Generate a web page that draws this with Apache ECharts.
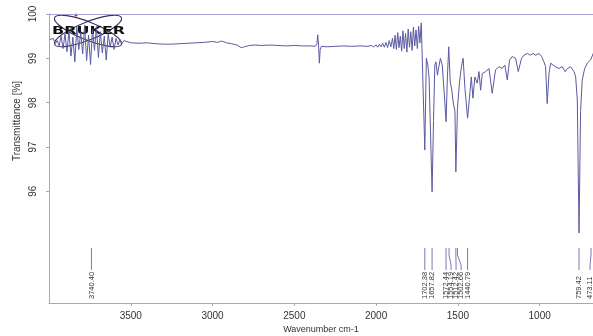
<!DOCTYPE html>
<html>
<head>
<meta charset="utf-8">
<script src="https://cdn.jsdelivr.net/npm/echarts@6/dist/echarts.min.js"></script>
<style>
html, body { margin: 0; padding: 0; background: #fff; }
#main { width: 593px; height: 336px; }
</style>
</head>
<body>
<div id="main"></div>
<script>
// IR spectrum
var wavenumbers = [
  3996, 3985, 3974, 3962, 3950, 3938, 3926, 3914, 3902, 3890, 3878, 3866, 3854, 3842, 3830, 3818, 3806, 3794, 3782, 3770,
  3758, 3746, 3734, 3722, 3710, 3698, 3686, 3674, 3662, 3650, 3638, 3626, 3614, 3602, 3590, 3578, 3566, 3554, 3542, 3530,
  3500, 3450, 3400, 3350, 3300, 3250, 3200, 3150, 3100, 3050, 3000, 2970, 2945, 2915, 2885, 2850, 2825, 2805, 2775, 2740,
  2700, 2650, 2600, 2550, 2500, 2450, 2400, 2372, 2362, 2357, 2352, 2347, 2342, 2335, 2300, 2250, 2200, 2150, 2100, 2050,
  2030, 2015, 2000, 1990, 1980, 1970, 1960, 1950, 1940, 1930, 1920, 1910, 1900, 1892, 1884, 1876, 1868, 1860, 1852, 1844,
  1836, 1828, 1820, 1812, 1804, 1796, 1788, 1780, 1772, 1764, 1756, 1748, 1740, 1732, 1724,
  1702.38, 1693, 1684, 1676, 1668, 1657.82, 1649, 1641, 1634, 1625, 1617, 1607, 1596, 1585, 1572.44, 1564, 1556, 1547, 1538, 1529,
  1518, 1512.42, 1502.66, 1490, 1479, 1468, 1457, 1440.79, 1426, 1418, 1408, 1396, 1382, 1371, 1361, 1351, 1331, 1310, 1290, 1270,
  1249, 1229, 1213, 1198, 1184, 1168, 1147, 1131, 1111, 1096, 1076, 1056, 1041, 1025, 1004, 988, 974, 964, 954, 943,
  933, 919, 903, 892, 882, 862, 845, 831, 811, 790, 780, 770, 759.42, 750, 740, 725, 709, 689, 668, 640,
  600, 560, 520, 495, 473.11, 455, 430, 400
];
var transmittance = [
  99.42, 99.38, 99.45, 99.33, 99.40, 99.28, 99.50, 99.22, 99.55, 99.15, 99.62, 99.05, 99.48, 98.92, 99.70, 99.20, 99.58, 99.10, 99.75, 98.95,
  99.52, 98.86, 99.66, 99.18, 99.72, 99.02, 99.60, 99.12, 99.50, 98.96, 99.55, 99.25, 99.48, 99.20, 99.45, 99.30, 99.42, 99.33, 99.40, 99.36,
  99.35, 99.34, 99.35, 99.33, 99.32, 99.32, 99.33, 99.34, 99.35, 99.36, 99.38, 99.36, 99.39, 99.35, 99.33, 99.30, 99.24, 99.26, 99.29, 99.30,
  99.29, 99.30, 99.29, 99.28, 99.29, 99.28, 99.28, 99.27, 99.33, 99.53, 99.30, 98.89, 99.20, 99.27, 99.26, 99.27, 99.28, 99.27, 99.28, 99.27,
  99.29, 99.26, 99.30, 99.25, 99.32, 99.26, 99.34, 99.25, 99.36, 99.24, 99.40, 99.26, 99.45, 99.22, 99.52, 99.20, 99.58, 99.24, 99.50, 99.16,
  99.62, 99.22, 99.56, 99.14, 99.66, 99.25, 99.60, 99.18, 99.70, 99.28, 99.64, 99.22, 99.72, 99.35, 99.80,
  96.93, 99.00, 98.85, 98.56, 97.40, 95.99, 97.60, 98.85, 98.92, 98.62, 98.80, 99.00, 98.85, 98.30, 97.57, 98.60, 99.26, 98.47, 98.30, 98.02,
  97.80, 96.44, 97.87, 98.47, 98.80, 99.00, 98.32, 97.65, 98.25, 98.58, 98.10, 98.58, 98.44, 98.70, 98.28, 98.66, 98.70, 98.77, 98.21, 98.74,
  98.81, 98.77, 98.85, 98.51, 98.96, 99.04, 99.00, 98.70, 99.00, 99.07, 99.11, 99.07, 99.11, 99.07, 99.11, 99.04, 98.92, 98.81, 97.98, 98.66,
  98.89, 98.85, 98.81, 98.85, 98.77, 98.81, 98.70, 98.77, 98.81, 98.70, 98.58, 98.06, 95.06, 97.80, 98.51, 98.77, 98.89, 98.96, 99.15, 99.12,
  99.02, 98.90, 98.60, 98.20, 96.80, 98.70, 98.95, 99.05
];
var peakPositions = [3740.40, 1702.38, 1657.82, 1572.44, 1554.19, 1512.42, 1502.66, 1440.79, 759.42, 473.11];
var peakLabels = ['3740.40', '1702.38', '1657.82', '1572.44', '1554.19', '1512.42', '1502.66', '1440.79', '759.42', '473.11'];
var xTicks = [3500, 3000, 2500, 2000, 1500, 1000];
var yTicks = [96, 97, 98, 99, 100];

var axisColor = '#a4a4d4';
var textColor = '#333';
var font = '"Liberation Sans", Arial, sans-serif';

// push peak labels apart so they do not overlap, keep them inside the picture
function spreadLabels(xs, gap, maxX) {
  var order = xs.map(function (x, i) { return i; }).sort(function (a, b) { return xs[a] - xs[b]; });
  var out = xs.slice();
  for (var k = 1; k < order.length; k++) {
    var prev = out[order[k - 1]];
    if (out[order[k]] < prev + gap) out[order[k]] = prev + gap;
  }
  for (var k = order.length - 1; k >= 0; k--) {
    var lim = k === order.length - 1 ? maxX : out[order[k + 1]] - gap;
    if (out[order[k]] > lim) out[order[k]] = lim;
  }
  return out;
}

var chart = echarts.init(document.getElementById('main'));
var spectrum = wavenumbers.map(function (w, i) { return [w, transmittance[i]]; });

var option = {
  animation: false,
  backgroundColor: '#fff',
  grid: { left: 49, right: 0, top: 14, bottom: 33 },
  xAxis: [{
    type: 'value', min: 674, max: 4000, inverse: true,
    axisLine: { show: true, lineStyle: { color: axisColor } },
    axisTick: { show: true, length: 3, customValues: xTicks, lineStyle: { color: axisColor } },
    axisLabel: {
      customValues: xTicks, margin: 8, color: textColor, fontSize: 10, fontFamily: font,
      formatter: function (v) { return String(v); }
    },
    splitLine: { show: false }
  }, {
    // top frame line only
    type: 'value', position: 'top', min: 674, max: 4000, inverse: true,
    axisLine: { show: true, lineStyle: { color: axisColor } },
    axisTick: { show: false }, axisLabel: { show: false }, splitLine: { show: false }
  }],
  yAxis: {
    type: 'value', min: 93.48, max: 100,
    axisLine: { show: true, lineStyle: { color: axisColor } },
    axisTick: { show: true, length: 3, customValues: yTicks, lineStyle: { color: axisColor } },
    axisLabel: { customValues: yTicks, rotate: 90, margin: 11, color: textColor, fontSize: 10, fontFamily: font },
    splitLine: { show: false }
  },
  graphic: [
    {
      type: 'text', x: 17, y: 121, rotation: Math.PI / 2, z: 10,
      style: { text: 'Transmittance [%]', fill: textColor, font: '10px ' + font, align: 'center', verticalAlign: 'middle' }
    },
    {
      type: 'text', x: 321, y: 330, z: 10,
      style: { text: 'Wavenumber cm-1', fill: textColor, font: '9px ' + font, align: 'center', verticalAlign: 'middle' }
    },
    {
      type: 'group', x: 88, y: 31, z: 100,
      children: [
        { type: 'ellipse', rotation: 0.38, shape: { cx: 0, cy: 0, rx: 36, ry: 9 }, style: { fill: null, stroke: '#3e3060', lineWidth: 1.1 } },
        { type: 'ellipse', rotation: -0.38, shape: { cx: 0, cy: 0, rx: 36, ry: 9 }, style: { fill: null, stroke: '#3e3060', lineWidth: 1.1 } },
        { type: 'circle', shape: { cx: -12, cy: -16, r: 1.6 }, style: { fill: '#c03030' } },
        {
          type: 'text', x: -36, y: 0, scaleX: 1.6,
          style: { text: 'BRUKER', fill: '#111', font: 'bold 10px "DejaVu Sans", sans-serif', align: 'left', verticalAlign: 'middle' }
        }
      ]
    }
  ],
  series: [
    {
      type: 'line',
      data: spectrum,
      showSymbol: false,
      lineStyle: { color: '#5a5aa0', width: 1 },
      z: 3
    },
    {
      type: 'custom',
      clip: false,
      silent: true,
      data: peakPositions.map(function (w) { return [w, 94]; }),
      renderItem: function (params, api) {
        var cs = params.coordSys;
        var bottom = cs.y + cs.height;
        var edge = api.getWidth() - 2;
        var xs = peakPositions.map(function (w) { return Math.min(api.coord([w, 100])[0], edge); });
        var lx = spreadLabels(xs, 5, edge - 1)[params.dataIndex];
        var px = xs[params.dataIndex];
        return {
          type: 'group',
          children: [
            {
              type: 'polyline',
              shape: { points: [[px, bottom - 55], [px, bottom - 48], [lx, bottom - 38], [lx, bottom - 33]] },
              style: { stroke: '#7a7ab6', lineWidth: 1, fill: null }
            },
            {
              type: 'text', x: lx, y: bottom - 4, rotation: Math.PI / 2,
              style: {
                text: peakLabels[params.dataIndex], fill: textColor, font: '7.5px ' + font,
                align: 'left', verticalAlign: 'middle', textAlign: 'left', textVerticalAlign: 'middle'
              }
            }
          ]
        };
      }
    }
  ]
};
chart.setOption(option);
</script>
</body>
</html>
